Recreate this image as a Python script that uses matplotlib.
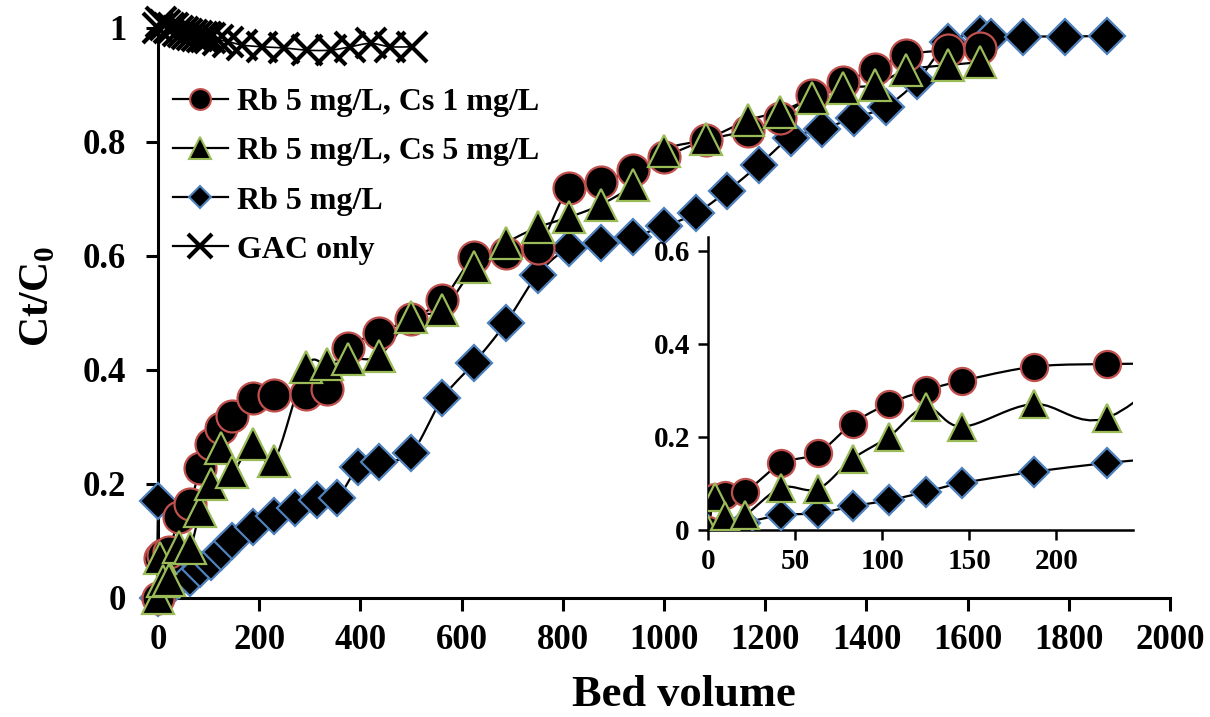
import numpy as np
import matplotlib
matplotlib.use("Agg")
import matplotlib.pyplot as plt
from matplotlib.lines import Line2D

plt.rcParams["font.family"] = ["Liberation Serif", "DejaVu Serif"]
plt.rcParams["font.weight"] = "bold"
plt.rcParams["mathtext.fontset"] = "custom"
plt.rcParams["mathtext.rm"] = "Liberation Serif:bold"
plt.rcParams["mathtext.bf"] = "Liberation Serif:bold"

# bed volumes sampled for the two Rb+Cs runs
rbcs_bv = [0, 4, 10, 21, 42, 63, 83, 104, 125, 146, 187, 229, 292, 333, 375, 437,
           500, 562, 625, 687, 750, 812, 875, 938, 1000, 1083, 1166, 1229, 1292,
           1354, 1417, 1479, 1562, 1625]
cs1_c = [0.0, 0.07, 0.075, 0.08, 0.142, 0.164, 0.228, 0.271, 0.299, 0.32, 0.35, 0.356,
         0.358, 0.366, 0.438, 0.465, 0.49, 0.523, 0.598, 0.605, 0.614, 0.719, 0.73,
         0.751, 0.774, 0.803, 0.82, 0.842, 0.882, 0.905, 0.928, 0.953, 0.961, 0.965]
cs5_c = [0.0, 0.07, 0.03, 0.031, 0.09, 0.087, 0.152, 0.2, 0.263, 0.221, 0.27, 0.24,
         0.405, 0.41, 0.42, 0.425, 0.493, 0.505, 0.58, 0.622, 0.65, 0.668, 0.69,
         0.725, 0.785, 0.805, 0.838, 0.853, 0.877, 0.895, 0.9, 0.926, 0.935, 0.94]

# Rb only run (first point is the odd reading at BV 0)
rb_bv = [0, 0, 21, 42, 63, 83, 104, 125, 146, 187, 229, 271, 314, 354, 396, 437, 500,
         562, 625, 687, 750, 812, 875, 938, 1000, 1063, 1125, 1188, 1250, 1313, 1375,
         1438, 1500, 1562, 1625, 1646, 1710, 1792, 1875]
rb_c = [0.17, 0.0, 0.015, 0.031, 0.035, 0.05, 0.063, 0.081, 0.1, 0.124, 0.143, 0.157,
        0.172, 0.175, 0.23, 0.239, 0.254, 0.35, 0.413, 0.482, 0.567, 0.614, 0.623,
        0.634, 0.652, 0.675, 0.714, 0.76, 0.807, 0.823, 0.842, 0.862, 0.907, 0.975,
        0.99, 0.985, 0.985, 0.985, 0.986]

gac_bv = [0, 5, 14, 22, 30, 40, 50, 58, 67, 77, 86, 95, 103, 119, 139, 166, 205, 248,
          294, 341, 380, 420, 459, 502]
gac_c = [1.0, 1.01, 1.005, 1.0, 1.0, 0.995, 0.993, 0.99, 0.988, 0.986, 0.985, 0.984,
         0.982, 0.979, 0.976, 0.97, 0.967, 0.965, 0.961, 0.961, 0.967, 0.973, 0.967,
         0.967]

labels = ["Rb 5 mg/L, Cs 1 mg/L", "Rb 5 mg/L, Cs 5 mg/L", "Rb 5 mg/L", "GAC only"]

RED = "#c0504d"
GREEN = "#9bbb59"
BLUE = "#4f81bd"


def smooth(x, y, n=10):
    # Excel-style smoothed line (uniform Catmull-Rom as cubic Bezier)
    x = np.asarray(x, float)
    y = np.asarray(y, float)
    px = np.concatenate([[x[0]], x, [x[-1]]])
    py = np.concatenate([[y[0]], y, [y[-1]]])
    t = np.linspace(0, 1, n, endpoint=False)[:, None]
    xs, ys = [], []
    for i in range(len(x) - 1):
        p0 = np.array([px[i], py[i]])
        p1 = np.array([px[i + 1], py[i + 1]])
        p2 = np.array([px[i + 2], py[i + 2]])
        p3 = np.array([px[i + 3], py[i + 3]])
        b1 = p1 + (p2 - p0) / 6
        b2 = p2 - (p3 - p1) / 6
        pts = ((1 - t) ** 3) * p1 + 3 * ((1 - t) ** 2) * t * b1 + 3 * (1 - t) * t ** 2 * b2 + t ** 3 * p2
        xs.append(pts[:, 0])
        ys.append(pts[:, 1])
    xs.append([x[-1]])
    ys.append([y[-1]])
    return np.concatenate(xs), np.concatenate(ys)


def draw(ax, x, y, marker, size, edge, z, lw=1.6, mew=1.6, clip=True):
    sx, sy = smooth(x, y)
    ax.plot(sx, sy, color="black", lw=lw, zorder=2, clip_on=clip)
    ax.plot(x, y, ls="none", marker=marker, ms=size, mfc="black", mec=edge, mew=mew,
            zorder=z, clip_on=clip)


fig = plt.figure(figsize=(12.1, 7.17), dpi=100)
ax = fig.add_axes([0.1306, 0.166, 0.8364, 0.795])

draw(ax, rb_bv, rb_c, "D", 18, BLUE, 3, clip=False)
draw(ax, rbcs_bv, cs1_c, "o", 23, RED, 4, clip=False)
draw(ax, rbcs_bv, cs5_c, "^", 23.5, GREEN, 5, clip=False)
sx, sy = smooth(gac_bv, gac_c)
ax.plot(sx, sy, color="black", lw=1.2, zorder=2, clip_on=False)
ax.plot(gac_bv, gac_c, ls="none", marker="x", ms=22, mec="black", mew=3, zorder=6,
        clip_on=False)

ax.set_xlim(0, 2000)
ax.set_ylim(0, 1)
ax.set_xticks(range(0, 2001, 200))
ax.set_yticks([0, 0.2, 0.4, 0.6, 0.8, 1.0])
ax.set_yticklabels(["0", "0.2", "0.4", "0.6", "0.8", "1"])
for s in ["top", "right"]:
    ax.spines[s].set_visible(False)
for s in ["left", "bottom"]:
    ax.spines[s].set_linewidth(2.2)
ax.tick_params(direction="out", length=9, width=2.2, labelsize=25)
ax.tick_params(axis="x", pad=10)
ax.tick_params(axis="y", pad=14)
ax.set_xlabel("Bed volume", fontsize=32, fontweight="bold")
ax.xaxis.set_label_coords(0.52, -0.135)
ax.set_ylabel("Ct/C$_0$", fontsize=30, fontweight="bold")
ax.yaxis.set_label_coords(-0.1, 0.53)

handles = [
    Line2D([], [], color="black", lw=1.6, marker="o", ms=15, mfc="black", mec=RED, mew=1.5),
    Line2D([], [], color="black", lw=1.6, marker="^", ms=16, mfc="black", mec=GREEN, mew=1.5),
    Line2D([], [], color="black", lw=1.6, marker="D", ms=11, mfc="black", mec=BLUE, mew=1.5),
    Line2D([], [], color="black", lw=1.6, marker="x", ms=17, mec="black", mew=3),
]
leg = ax.legend(handles, labels, loc="upper left", bbox_to_anchor=(0.015, 0.895),
                frameon=False, fontsize=23, handlelength=1.7, handletextpad=0.3,
                labelspacing=0.62, borderpad=0, borderaxespad=0)
leg.set_zorder(10)

# inset: early breakthrough
ins = fig.add_axes([0.5851, 0.2615, 0.3512, 0.4085])
ins.patch.set_alpha(0)
draw(ins, rb_bv[1:], rb_c[1:], "D", 15.5, BLUE, 3)
draw(ins, rbcs_bv, cs1_c, "o", 19.5, RED, 4)
draw(ins, rbcs_bv, cs5_c, "^", 19.5, GREEN, 5)
ins.set_xlim(0, 244)
ins.set_ylim(0, 0.63)
ins.set_xticks([0, 50, 100, 150, 200])
ins.set_yticks([0, 0.2, 0.4, 0.6])
ins.set_yticklabels(["0", "0.2", "0.4", "0.6"])
for s in ["top", "right"]:
    ins.spines[s].set_visible(False)
for s in ["left", "bottom"]:
    ins.spines[s].set_linewidth(1.8)
ins.tick_params(direction="out", length=7, width=1.8, labelsize=21, pad=6)

fig.savefig("out.png", dpi=100)
